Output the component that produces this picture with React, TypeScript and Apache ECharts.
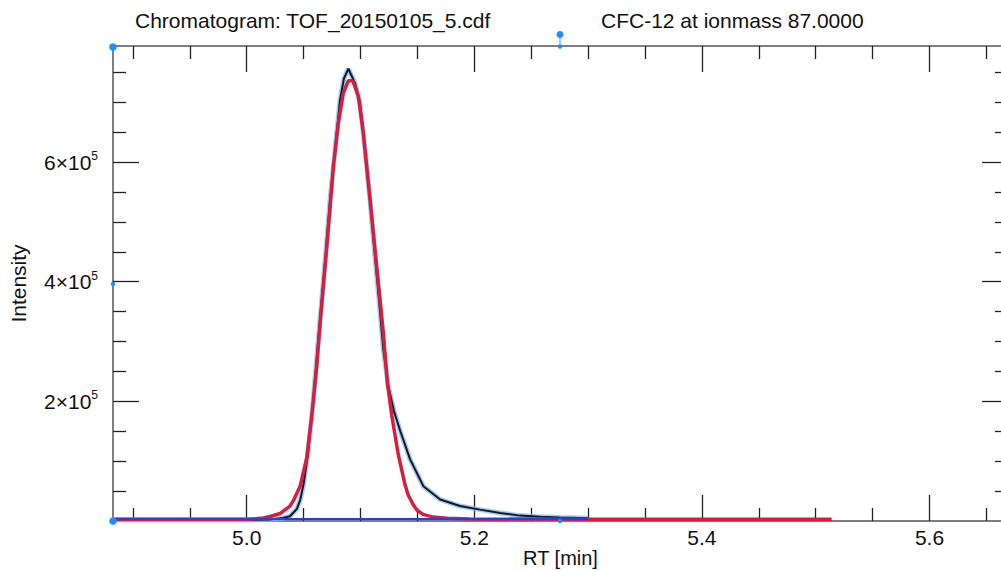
import React, { useEffect, useRef } from "react";
import * as echarts from "echarts";

// Measured chromatogram (RT [min], intensity)
const dataRT = [4.8825, 4.95, 5.0, 5.02, 5.032, 5.038, 5.044, 5.047, 5.05, 5.0542, 5.0585, 5.0621, 5.0659, 5.0697, 5.0732, 5.0776, 5.082, 5.0855, 5.0893, 5.0952, 5.0996, 5.104, 5.1084, 5.1122, 5.1163, 5.1201, 5.1245, 5.1295, 5.135, 5.1436, 5.1553, 5.17, 5.1875, 5.205, 5.2227, 5.24, 5.258, 5.275, 5.3];
const dataIntensity = [2000, 2000, 2000, 2500, 5000, 8000, 20000, 35000, 62000, 117000, 202000, 286000, 369000, 453000, 536000, 620000, 704000, 740000, 756000, 732000, 699000, 620000, 536000, 453000, 369000, 286000, 225000, 183000, 150000, 103000, 58000, 36000, 25000, 19000, 13500, 9000, 6900, 5700, 4800];

// Fitted peak
const fitRT = [4.8825, 5.0, 5.0073, 5.0146, 5.0205, 5.0293, 5.038, 5.041, 5.0469, 5.0527, 5.0571, 5.0615, 5.065, 5.0688, 5.0726, 5.0761, 5.0805, 5.0849, 5.0893, 5.0932, 5.0981, 5.1025, 5.1069, 5.1113, 5.1157, 5.1201, 5.1236, 5.1275, 5.1331, 5.1392, 5.1418, 5.1462, 5.1497, 5.155, 5.1638, 5.176, 5.196, 5.3, 5.514];
const fitIntensity = [3000, 3000, 3800, 5000, 7500, 12500, 25000, 34000, 58000, 105000, 175000, 258000, 342000, 425000, 509000, 592000, 665000, 715000, 736000, 736000, 710000, 648000, 565000, 481000, 398000, 314000, 231000, 176000, 112000, 60000, 44000, 27500, 18000, 11000, 6500, 4500, 3200, 3000, 3000];

// Baseline
const baseRT = [4.8825, 5.3];
const baseIntensity = [3500, 3500];

const xMin = 4.8825;
const xMax = 5.669;
const yMin = 0;
const yMax = 794000;

const xMajorTicks = [5.0, 5.2, 5.4, 5.6];
const xMinorTicks = [4.9, 4.95, 5.05, 5.1, 5.15, 5.25, 5.3, 5.35, 5.45, 5.5, 5.55, 5.65];
const yMajorTicks = [200000, 400000, 600000];
const yMinorTicks = [50000, 100000, 150000, 250000, 300000, 350000, 450000, 500000, 550000, 650000, 700000, 750000];

const titleLeft = "Chromatogram: TOF_20150105_5.cdf";
const titleRight = "CFC-12 at ionmass 87.0000";
const xName = "RT [min]";
const yName = "Intensity";

const FONT = "'Liberation Sans', Arial, Helvetica, sans-serif";
const FS = 21;
const AXIS_COLOR = "#555";
const TICK_COLOR = "#222";
const HANDLE = "#1e8fff";

function zip(xs: number[], ys: number[]) {
  return xs.map((x, i) => [x, ys[i]]);
}

function xAxisDef(position: "top" | "bottom", ticks: number[], len: number, main: boolean, labels: boolean) {
  return {
    type: "value",
    position,
    min: xMin,
    max: xMax,
    axisLine: { show: main, onZero: false, lineStyle: { color: AXIS_COLOR, width: 1.5 } },
    axisTick: { show: true, inside: true, length: len, customValues: ticks, lineStyle: { color: TICK_COLOR, width: 1.3 } },
    axisLabel: labels
      ? { show: true, customValues: ticks, formatter: (v: number) => v.toFixed(1), fontSize: FS, color: "#111", fontFamily: FONT, margin: 6 }
      : { show: false },
    splitLine: { show: false },
    ...(labels
      ? {
          name: xName,
          nameLocation: "middle",
          nameGap: 27,
          nameMoveOverlap: false,
          nameTextStyle: { fontSize: 20, color: "#111", fontFamily: FONT },
        }
      : {}),
  };
}

function yAxisDef(position: "left" | "right", ticks: number[], len: number, main: boolean, labels: boolean) {
  return {
    type: "value",
    position,
    min: yMin,
    max: yMax,
    axisLine: { show: main, onZero: false, lineStyle: { color: AXIS_COLOR, width: 1.5 } },
    axisTick: { show: true, inside: true, length: len, customValues: ticks, lineStyle: { color: TICK_COLOR, width: 1.3 } },
    axisLabel: labels
      ? {
          show: true,
          customValues: ticks,
          margin: 15,
          formatter: (v: number) => `{a|${Math.round(v / 100000)}×10}{b|5}`,
          rich: {
            a: { fontSize: FS, color: "#111", fontFamily: FONT, lineHeight: 24 },
            b: { fontSize: 12, color: "#111", fontFamily: FONT, verticalAlign: "top", lineHeight: 12, padding: [0, 0, 14, 0] },
          },
        }
      : { show: false },
    splitLine: { show: false },
    ...(labels
      ? {
          name: yName,
          nameLocation: "middle",
          nameGap: 84,
          nameRotate: 90,
          nameMoveOverlap: false,
          nameTextStyle: { fontSize: FS, color: "#111", fontFamily: FONT },
        }
      : {}),
  };
}

export default function App() {
  const ref = useRef<HTMLDivElement>(null);
  useEffect(() => {
    if (!ref.current) return;
    const chart = echarts.init(ref.current, undefined, { renderer: "svg" });
    chart.setOption({
      animation: false,
      backgroundColor: "#fff",
      grid: { left: 113, right: 2, top: 46, bottom: 50, outerBoundsMode: "none", containLabel: false },
      xAxis: [
        xAxisDef("bottom", xMajorTicks, 26, true, true),
        xAxisDef("bottom", xMinorTicks, 13, false, false),
        xAxisDef("top", xMajorTicks, 26, true, false),
        xAxisDef("top", xMinorTicks, 13, false, false),
      ],
      yAxis: [
        yAxisDef("left", yMajorTicks, 26, true, true),
        yAxisDef("left", yMinorTicks, 13, false, false),
        yAxisDef("right", yMajorTicks, 26, true, false),
        yAxisDef("right", yMinorTicks, 13, false, false),
      ],
      series: [
        {
          type: "line",
          name: "data-halo",
          data: zip(dataRT, dataIntensity),
          showSymbol: false,
          silent: true,
          lineStyle: { color: "rgba(140,185,235,0.75)", width: 5 },
          z: 2,
        },
        {
          type: "line",
          name: "data",
          data: zip(dataRT, dataIntensity),
          showSymbol: false,
          lineStyle: { color: "#0c1a2c", width: 2 },
          z: 3,
        },
        {
          type: "line",
          name: "fit",
          data: zip(fitRT, fitIntensity),
          showSymbol: false,
          lineStyle: { color: "#d61f3d", width: 3.5 },
          z: 4,
        },
        {
          type: "line",
          name: "baseline",
          data: zip(baseRT, baseIntensity),
          showSymbol: false,
          lineStyle: { color: "#1f3ff2", width: 2 },
          z: 5,
        },
      ],
      graphic: [
        { type: "text", left: 135, top: 10, style: { text: titleLeft, fontSize: FS, fill: "#111", fontFamily: FONT } },
        { type: "text", left: 601, top: 10, style: { text: titleRight, fontSize: FS, fill: "#111", fontFamily: FONT } },
        { type: "line", shape: { x1: 560, y1: 35, x2: 560, y2: 46 }, style: { stroke: "#7fbfff", lineWidth: 1.5 }, z: 100 },
        { type: "circle", shape: { cx: 560, cy: 34.5, r: 3.5 }, style: { fill: HANDLE }, z: 100 },
        { type: "circle", shape: { cx: 560, cy: 46.5, r: 2.2 }, style: { fill: HANDLE }, z: 100 },
        { type: "circle", shape: { cx: 113, cy: 47, r: 3.8 }, style: { fill: HANDLE }, z: 100 },
        { type: "circle", shape: { cx: 113, cy: 521, r: 3.8 }, style: { fill: HANDLE }, z: 100 },
        { type: "circle", shape: { cx: 113, cy: 284, r: 2.2 }, style: { fill: HANDLE }, z: 100 },
        { type: "circle", shape: { cx: 560, cy: 521, r: 2.2 }, style: { fill: HANDLE }, z: 100 },
      ],
    });
    return () => chart.dispose();
  }, []);
  return (
    <div style={{ position: "fixed", left: 0, top: 0, width: 1001, height: 571, overflow: "hidden", background: "#fff" }}>
      <div ref={ref} style={{ width: 1010, height: 571 }} />
    </div>
  );
}
